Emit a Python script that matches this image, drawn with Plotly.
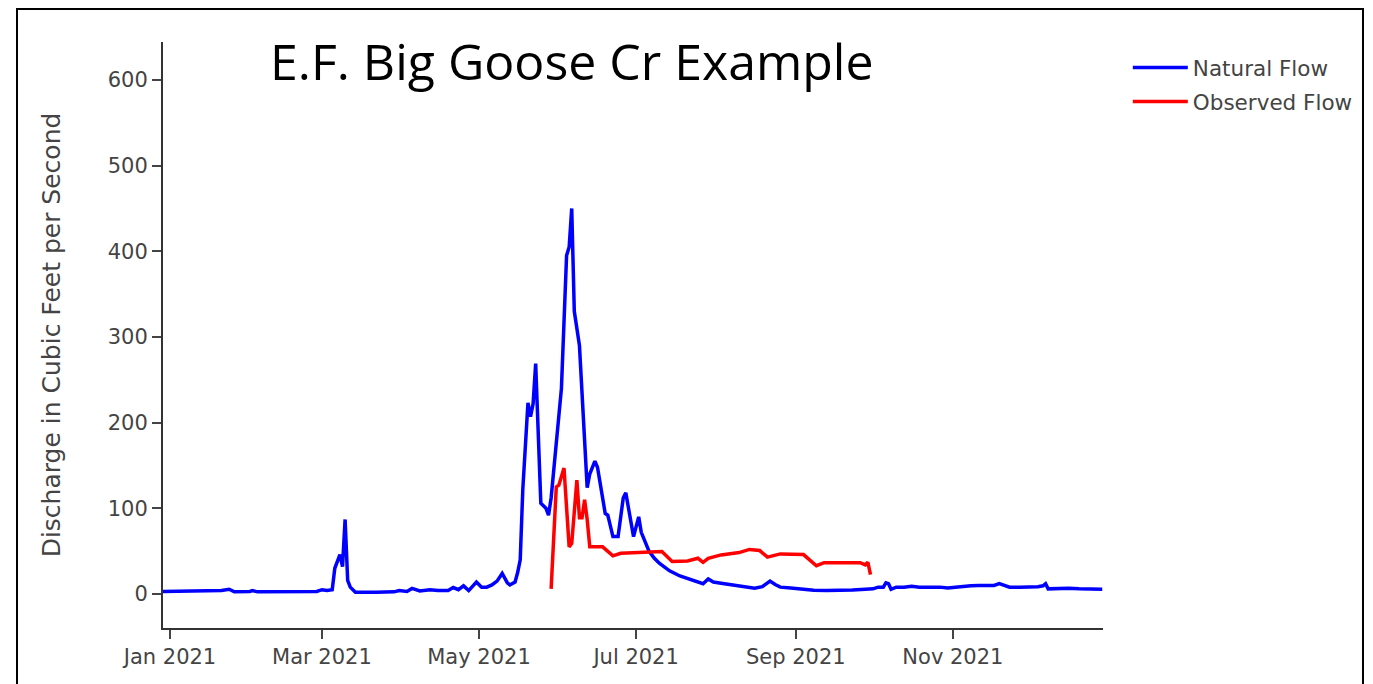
import plotly.graph_objects as go

natural_dates = [
    "2020-12-29", "2021-01-06", "2021-01-12", "2021-01-17", "2021-01-21", "2021-01-24", "2021-01-26",
    "2021-02-01", "2021-02-02", "2021-02-04", "2021-02-15", "2021-02-22", "2021-02-27",
    "2021-03-01", "2021-03-03", "2021-03-05", "2021-03-06", "2021-03-08", "2021-03-09", "2021-03-10",
    "2021-03-11", "2021-03-12", "2021-03-14", "2021-03-22", "2021-03-29", "2021-03-31",
    "2021-04-03", "2021-04-05", "2021-04-08", "2021-04-12", "2021-04-15", "2021-04-19", "2021-04-21",
    "2021-04-23", "2021-04-25", "2021-04-27", "2021-04-30",
    "2021-05-02", "2021-05-04", "2021-05-06", "2021-05-08", "2021-05-10", "2021-05-12", "2021-05-13",
    "2021-05-15", "2021-05-16", "2021-05-17", "2021-05-18", "2021-05-20", "2021-05-21", "2021-05-22",
    "2021-05-23", "2021-05-25", "2021-05-27", "2021-05-28", "2021-05-29", "2021-05-31",
    "2021-06-02", "2021-06-04", "2021-06-05", "2021-06-06", "2021-06-07", "2021-06-09", "2021-06-10",
    "2021-06-11", "2021-06-12", "2021-06-13", "2021-06-15", "2021-06-16", "2021-06-18", "2021-06-19",
    "2021-06-20", "2021-06-22", "2021-06-24", "2021-06-26", "2021-06-27", "2021-06-28", "2021-06-30",
    "2021-07-02", "2021-07-03", "2021-07-06", "2021-07-08", "2021-07-10", "2021-07-14", "2021-07-18",
    "2021-07-21", "2021-07-25", "2021-07-27", "2021-07-29", "2021-07-31",
    "2021-08-03", "2021-08-08", "2021-08-12", "2021-08-16", "2021-08-19", "2021-08-22", "2021-08-24",
    "2021-08-26", "2021-08-30",
    "2021-09-04", "2021-09-08", "2021-09-13", "2021-09-18", "2021-09-23", "2021-09-28",
    "2021-10-01", "2021-10-03", "2021-10-05", "2021-10-06", "2021-10-07", "2021-10-08", "2021-10-10",
    "2021-10-13", "2021-10-16", "2021-10-19", "2021-10-22", "2021-10-25", "2021-10-27", "2021-10-30",
    "2021-11-03", "2021-11-08", "2021-11-11", "2021-11-14", "2021-11-17", "2021-11-19", "2021-11-21",
    "2021-11-23", "2021-11-27",
    "2021-12-01", "2021-12-04", "2021-12-06", "2021-12-07", "2021-12-08", "2021-12-12", "2021-12-16",
    "2021-12-20", "2021-12-23", "2021-12-29",
]
natural_flow = [
    3, 3, 3, 3, 4, 5.5, 2.5,
    3, 4, 2.5, 2.5, 3, 3,
    5, 4, 5, 30, 46, 32, 87,
    16, 8, 2, 2, 2.5, 4,
    3, 6.5, 3.5, 5, 4, 4, 7.5,
    5, 9.5, 4, 14,
    8, 8, 10.5, 15, 24, 13, 10.5,
    14, 25, 40, 122, 223, 207, 222,
    269, 106, 100, 92, 112, 180,
    240, 395, 405, 450, 330, 290, 240,
    180, 124, 140, 155, 148, 110, 94,
    92, 67, 67, 112, 118, 100, 67,
    90, 72, 50, 42, 36, 27, 21,
    18, 14, 12, 17.5, 14,
    12.5, 10.5, 8.5, 6.6, 8.6, 15, 11,
    8, 7,
    5.5, 4.5, 4, 4, 4.7, 5.5,
    6, 8, 8, 13, 12, 5.5, 8,
    8, 9, 8, 8, 9, 8, 7,
    8.5, 9.5, 10, 10.5, 10, 12, 10,
    8, 8,
    8, 8.5, 9.5, 12, 6, 6.5, 6.6,
    6, 5.5, 5.5,
]

observed_dates = [
    "2021-05-29", "2021-05-31", "2021-06-01", "2021-06-03", "2021-06-05", "2021-06-06", "2021-06-08",
    "2021-06-09", "2021-06-10", "2021-06-11", "2021-06-12", "2021-06-13", "2021-06-18", "2021-06-22",
    "2021-06-25", "2021-07-11", "2021-07-15", "2021-07-21", "2021-07-25", "2021-07-27", "2021-07-29",
    "2021-08-03", "2021-08-10", "2021-08-14", "2021-08-18", "2021-08-21", "2021-08-26",
    "2021-09-04", "2021-09-09", "2021-09-12", "2021-09-26", "2021-09-28", "2021-09-29", "2021-09-30",
]
observed_flow = [
    6, 125, 127, 147, 55, 59, 133,
    89, 89, 110, 87, 55, 55, 44.5,
    47.5, 49.5, 38, 38.6, 41.7, 37, 41.7,
    45.6, 48.3, 52, 50.7, 43, 46.8,
    46, 33, 36.6, 36.6, 34, 37, 22.5,
]

title_text = "E.F. Big Goose Cr Example"
y_title = "Discharge in Cubic Feet per Second"
y_ticks = [0, 100, 200, 300, 400, 500, 600]

# the page body adds an 8px margin; layout below is in figure pixels
OFF = 8
W, H = 1365, 676
ML, MT = 163 - OFF, 42 - OFF
PW, PH = 940, 586
MR, MB = W - ML - PW, H - MT - PH


def px_x(x):  # page pixel -> paper
    return (x - OFF - ML) / PW


def px_y(y):
    return 1 - (y - OFF - MT) / PH


fig = go.Figure()
fig.add_trace(go.Scatter(x=natural_dates, y=natural_flow, mode="lines", name="Natural Flow",
                         legendgroup="a", line=dict(color="blue", width=3.5)))
fig.add_trace(go.Scatter(x=observed_dates, y=observed_flow, mode="lines", name="Observed Flow",
                         legendgroup="b", line=dict(color="red", width=3.5)))

tick_font = dict(family="DejaVu Sans", size=21, color="#444")

fig.update_layout(
    width=W, height=H,
    margin=dict(l=ML, r=MR, t=MT, b=MB, pad=0),
    paper_bgcolor="white", plot_bgcolor="white",
    font=dict(family="DejaVu Sans", size=21, color="#444"),
    showlegend=True,
    legend=dict(x=1.0264, y=1 - 5 / PH, xanchor="left", yanchor="top", itemwidth=55,
                traceorder="grouped", tracegroupgap=3,
                font=dict(family="DejaVu Sans", size=21.5, color="#444"),
                bgcolor="rgba(0,0,0,0)"),
    xaxis=dict(type="date", range=["2020-12-29 07:00", "2021-12-29 07:00"],
               dtick="M2", tick0="2021-01-01", tickformat="%b %Y",
               showgrid=False, zeroline=False, showline=True, linecolor="#333", linewidth=2,
               ticks="outside", ticklen=9, tickwidth=2, tickcolor="#444", tickfont=tick_font),
    yaxis=dict(range=[-39.7, 644.3], tickvals=y_ticks,
               showgrid=False, zeroline=False, showline=True, linecolor="#333", linewidth=2,
               ticks="outside", ticklen=9, tickwidth=2, tickcolor="#444", tickfont=tick_font,
               title=dict(text=y_title, font=dict(family="DejaVu Sans", size=25, color="#444"),
                          standoff=40)),
    annotations=[dict(text=title_text, xref="paper", yref="paper",
                      x=px_x(268), y=px_y(61), xanchor="left", yanchor="middle",
                      showarrow=False, font=dict(family="Open Sans", size=50, color="black"))],
    shapes=[
        dict(type="rect", xref="paper", yref="paper", x0=px_x(17), x1=px_x(1363),
             y0=px_y(760), y1=px_y(9), line=dict(color="black", width=2), layer="below"),
    ],
)

fig.write_html("out.html")
